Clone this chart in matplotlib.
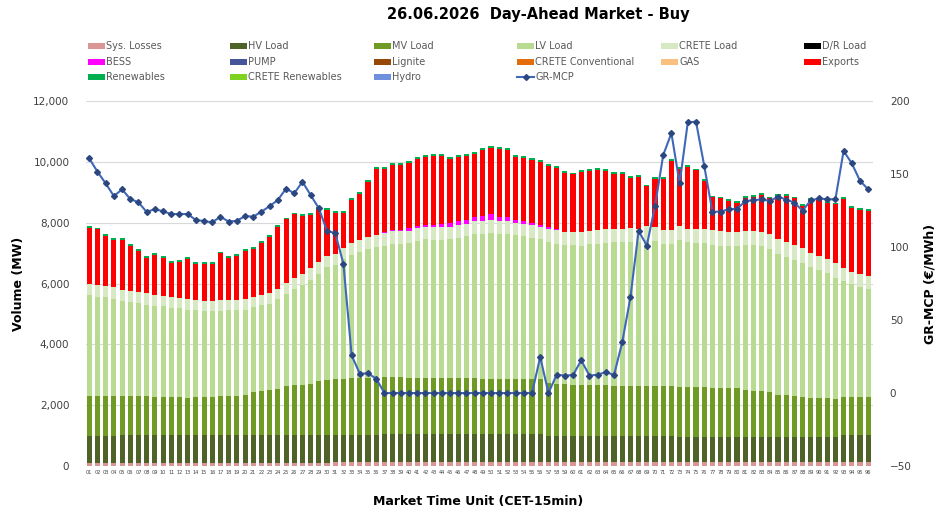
import numpy as np
import matplotlib.pyplot as plt
from matplotlib.patches import Rectangle
from matplotlib.lines import Line2D
from matplotlib.ticker import FuncFormatter

plt.rcParams['font.family'] = ['DejaVu Sans']

# market time units 01..96
mtu = ['%02d' % i for i in range(1, 97)]

# stacked volumes (MW)
sys_losses = [110] * 30 + [120] * 34 + [140] * 32
hv_load = ([890] * 4 + [910] * 16 + [920] * 10 + [910] * 6 + [920] * 20 +
           [880] * 8 + [860] * 8 + [830] * 20 + [870] * 4)
mv_load = [1290, 1290, 1290, 1290, 1270, 1280, 1270, 1270, 1260, 1250, 1240, 1240,
           1230, 1240, 1250, 1260, 1280, 1290, 1290, 1310, 1410, 1440, 1460, 1500,
           1590, 1620, 1650, 1680, 1770, 1810, 1820, 1830, 1870, 1880, 1880, 1870,
           1900, 1890, 1880, 1870, 1860, 1860, 1850, 1850, 1850, 1840, 1840, 1840,
           1830, 1830, 1820, 1820, 1810, 1810, 1810, 1810, 1720, 1690, 1690, 1680,
           1650, 1650, 1650, 1650, 1640, 1640, 1640, 1640, 1640, 1640, 1640, 1640,
           1630, 1630, 1630, 1630, 1610, 1600, 1600, 1580, 1530, 1510, 1490, 1460,
           1370, 1350, 1330, 1310, 1280, 1280, 1270, 1240, 1270, 1270, 1270, 1270]
lv_load = [3330, 3280, 3260, 3210, 3130, 3090, 3060, 3020, 2990, 2980, 2950, 2930,
           2890, 2860, 2830, 2820, 2810, 2810, 2820, 2810, 2790, 2810, 2850, 2960,
           3030, 3160, 3260, 3410, 3520, 3690, 3750, 3940, 4040, 4140, 4240, 4300,
           4310, 4370, 4390, 4410, 4490, 4550, 4550, 4540, 4560, 4630, 4670, 4760,
           4770, 4800, 4780, 4780, 4730, 4700, 4660, 4600, 4630, 4620, 4570, 4580,
           4600, 4640, 4660, 4690, 4710, 4710, 4730, 4710, 4800, 4760, 4670, 4670,
           4840, 4750, 4740, 4740, 4700, 4680, 4660, 4680, 4760, 4780, 4770, 4710,
           4640, 4550, 4480, 4400, 4290, 4180, 4100, 3980, 3800, 3690, 3620, 3550]
crete_load = [370] * 8 + [340] * 16 + [380] * 12 + [420] * 20 + [450] * 20 + [480] * 16 + [420] * 4
bess = [0] * 35 + [20, 40, 40, 40, 100, 90, 60, 70, 110, 130, 120, 110, 140,
                   150, 190, 140, 140, 90, 70, 60, 50, 50, 30] + [0] * 38
exports = [1850, 1840, 1640, 1560, 1640, 1470, 1350, 1170, 1330, 1260, 1140, 1190,
           1340, 1190, 1210, 1200, 1540, 1370, 1440, 1600, 1580, 1720, 1860, 2030,
           2080, 2080, 1900, 1750, 1750, 1510, 1330, 1130, 1420, 1510, 1820, 2170,
           2060, 2140, 2130, 2120, 2200, 2230, 2260, 2230, 2100, 2110, 2110, 2050,
           2180, 2190, 2220, 2190, 2080, 2080, 2070, 2090, 2010, 2000, 1930, 1880,
           1980, 1950, 1970, 1900, 1800, 1800, 1660, 1710, 1300, 1590, 1680, 2270,
           1880, 2040, 1930, 1580, 1070, 1070, 1010, 940, 1070, 1110, 1200, 1180,
           1430, 1530, 1540, 1400, 1740, 1850, 1840, 1930, 2270, 2100, 2100, 2140]
renewables = [60] * 96

# GR-MCP (EUR/MWh)
gr_mcp = [160.7, 151.6, 143.6, 134.9, 139.5, 132.9, 130.6, 124.0, 126.0, 124.4, 122.6, 122.6,
          122.6, 118.5, 117.8, 116.9, 120.8, 117.4, 118.0, 121.2, 120.8, 124.2, 128.0, 132.2,
          140.0, 136.8, 144.7, 135.6, 126.5, 111.0, 109.6, 88.4, 25.8, 13.2, 13.5, 9.8,
          0, 0, 0, 0, 0, 0, 0, 0, 0, 0, 0, 0,
          0, 0, 0, 0, 0, 0, 0, 24.7, 0, 12.5, 12.0, 12.3,
          22.4, 12.0, 12.5, 14.4, 12.3, 34.7, 65.5, 111.0, 101.0, 128.0, 163.0, 178.0,
          143.6, 185.4, 185.9, 155.7, 124.2, 124.2, 126.0, 126.0, 131.5, 132.0, 132.7, 131.5,
          134.5, 132.5, 130.4, 124.9, 132.0, 133.3, 132.7, 132.7, 165.8, 157.3, 145.4, 139.5]

series = [
    ('Sys. Losses', sys_losses, '#da9694'),
    ('HV Load', hv_load, '#4f6228'),
    ('MV Load', mv_load, '#6f9b25'),
    ('LV Load', lv_load, '#b9da91'),
    ('CRETE Load', crete_load, '#d6e9c2'),
    ('BESS', bess, '#ff00ff'),
    ('Exports', exports, '#ff0000'),
    ('Renewables', renewables, '#00b050'),
]

legend_items = [
    ('Sys. Losses', '#da9694'), ('HV Load', '#4f6228'), ('MV Load', '#6f9b25'),
    ('LV Load', '#b9da91'), ('CRETE Load', '#d6e9c2'), ('D/R Load', '#000000'),
    ('BESS', '#ff00ff'), ('PUMP', '#44559a'), ('Lignite', '#974706'),
    ('CRETE Conventional', '#e46c0a'), ('GAS', '#f9c07f'), ('Exports', '#ff0000'),
    ('Renewables', '#00b050'), ('CRETE Renewables', '#7ed321'), ('Hydro', '#6f8fdf'),
    ('GR-MCP', None),
]

line_col = '#4068b8'
mark_col = '#2c4780'

fig = plt.figure(figsize=(9.48, 5.27), dpi=100)
ax = fig.add_axes([0.0907, 0.1157, 0.8303, 0.6926])

x = np.arange(1, 97)
bottom = np.zeros(96)
for name, vals, col in series:
    v = np.array(vals, dtype=float)
    ax.bar(x, v, bottom=bottom, width=0.62, color=col, linewidth=0, zorder=2)
    bottom += v

ax.set_xlim(0.6, 96.6)
ax.set_ylim(0, 12000)
ax.set_yticks(range(0, 12001, 2000))
ax.yaxis.set_major_formatter(FuncFormatter(lambda v, p: '{:,.0f}'.format(v)))
ax.grid(axis='y', color='#d9d9d9', linewidth=0.8, zorder=0)
ax.set_axisbelow(True)
ax.set_xticks(x)
ax.set_xticklabels(mtu, fontsize=3.6, color='#404040')
ax.tick_params(axis='both', length=0)
ax.tick_params(axis='y', labelsize=7.5, labelcolor='#404040', pad=12)
ax.tick_params(axis='x', pad=3)
for s in ax.spines.values():
    s.set_visible(False)

ax2 = ax.twinx()
ax2.plot(x, gr_mcp, color=line_col, linewidth=1.5, marker='D', markersize=3.0,
         markerfacecolor=mark_col, markeredgecolor=mark_col, zorder=5)
ax2.set_ylim(-50, 200)
ax2.set_yticks(range(-50, 201, 50))
ax2.tick_params(axis='y', length=0, labelsize=7.5, labelcolor='#404040', pad=12)
for s in ax2.spines.values():
    s.set_visible(False)

fig.text(0.568, 0.972, '26.06.2026  Day-Ahead Market - Buy', ha='center', va='center',
         fontsize=10.5, fontweight='bold')
fig.text(0.019, 0.462, 'Volume (MW)', rotation=90, ha='center', va='center',
         fontsize=9, fontweight='bold')
fig.text(0.981, 0.462, 'GR-MCP (€/MWh)', rotation=90, ha='center', va='center',
         fontsize=9, fontweight='bold')
fig.text(0.504, 0.049, 'Market Time Unit (CET-15min)', ha='center', va='center',
         fontsize=9, fontweight='bold')

# legend laid out row by row like the original
col_x = [88, 230, 374, 517, 661, 804]
row_y = [46, 62, 77]
W, H = 948.0, 527.0
for i, (name, col) in enumerate(legend_items):
    cx = col_x[i % 6]
    cy = row_y[i // 6]
    if col is None:
        fig.add_artist(Line2D([cx / W, (cx + 17) / W], [1 - cy / H, 1 - cy / H],
                              color=line_col, linewidth=1.5, transform=fig.transFigure))
        fig.add_artist(Line2D([(cx + 8.5) / W], [1 - cy / H], marker='D', markersize=3.0,
                              color=mark_col, linestyle='none', transform=fig.transFigure))
    else:
        fig.add_artist(Rectangle((cx / W, 1 - (cy + 3) / H), 17 / W, 6 / H,
                                 facecolor=col, edgecolor='none', transform=fig.transFigure))
    fig.text((cx + 18) / W, 1 - cy / H, name, ha='left', va='center',
             fontsize=7, color='#595959')

fig.savefig('out.png', dpi=100)
